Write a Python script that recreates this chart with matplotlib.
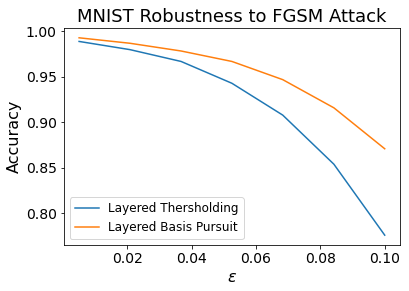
import matplotlib
matplotlib.use('Agg')
import matplotlib.pyplot as plt

# epsilon values and accuracies
eps = [0.005, 0.0208, 0.0367, 0.0525, 0.0683, 0.0842, 0.1]
acc_thresholding = [0.989, 0.980, 0.967, 0.943, 0.908, 0.854, 0.776]
acc_basis_pursuit = [0.993, 0.987, 0.9785, 0.967, 0.947, 0.916, 0.871]

fig = plt.figure(figsize=(409 / 72, 291 / 72), dpi=72)
ax = fig.add_axes([0.156, 0.158, 0.822, 0.746])
ax.plot(eps, acc_thresholding, label='Layered Thersholding')
ax.plot(eps, acc_basis_pursuit, label='Layered Basis Pursuit')
ax.set_title('MNIST Robustness to FGSM Attack', fontsize=18)
ax.set_xlabel(r'$\epsilon$', fontsize=16)
ax.set_ylabel('Accuracy', fontsize=16)
ax.tick_params(labelsize=14)
ax.legend(fontsize=12, loc='lower left')
plt.savefig('out.png', dpi=72)
plt.close()
